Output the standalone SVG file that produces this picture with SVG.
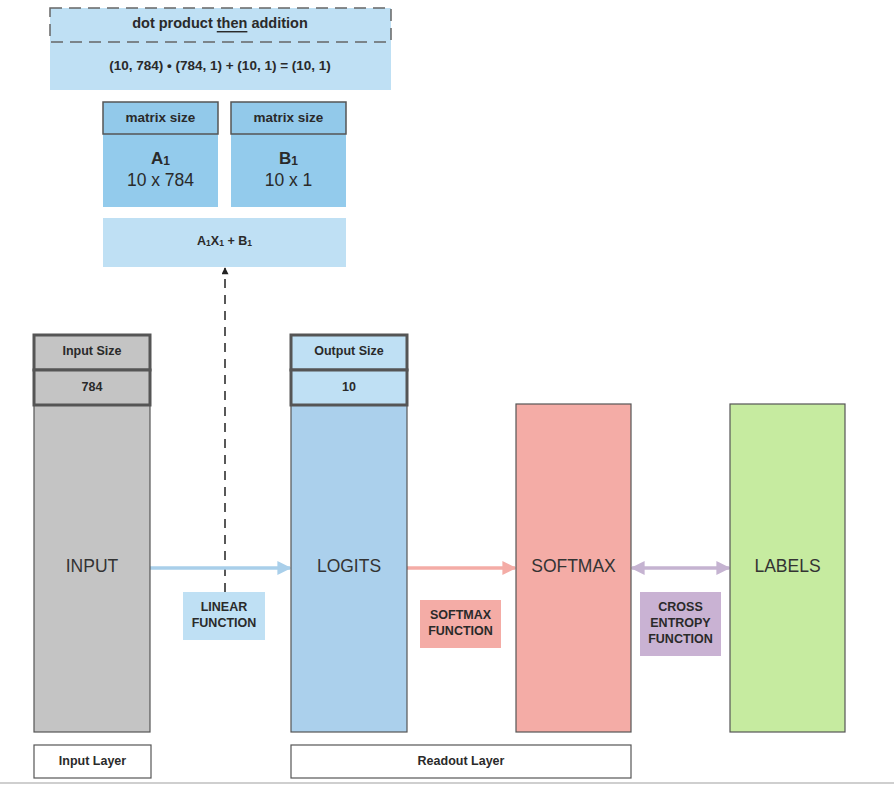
<svg xmlns="http://www.w3.org/2000/svg" width="894" height="785" viewBox="0 0 894 785">
<defs>
<style>
text{font-family:"Liberation Sans",Arial,sans-serif;fill:#2a2a2a;text-anchor:middle;dominant-baseline:central}
.b{font-weight:bold}
.s11{font-size:12.5px}
.s12{font-size:13.5px}
.s13{font-size:14.5px}
.big{font-size:17.5px;fill:#333}
.thick{stroke:#555;stroke-width:3}
.thin{stroke:#555;stroke-width:1.2}
.lb{fill:#bfe0f4}
</style>
<marker id="ab" viewBox="0 0 10 10" refX="9" refY="5" markerWidth="4" markerHeight="4" orient="auto-start-reverse"><path d="M0,0L10,5L0,10z" fill="#a9cfea"/></marker>
<marker id="as" viewBox="0 0 10 10" refX="9" refY="5" markerWidth="4" markerHeight="4" orient="auto-start-reverse"><path d="M0,0L10,5L0,10z" fill="#f4aca6"/></marker>
<marker id="ap" viewBox="0 0 10 10" refX="9" refY="5" markerWidth="4" markerHeight="4" orient="auto-start-reverse"><path d="M0,0L10,5L0,10z" fill="#c5b3d1"/></marker>
<marker id="ak" viewBox="0 0 10 10" refX="9" refY="5" markerWidth="8" markerHeight="7" markerUnits="userSpaceOnUse" orient="auto"><path d="M0,0L10,5L0,10z" fill="#222"/></marker>
</defs>
<rect width="894" height="785" fill="#fff"/>
<line x1="0" y1="783" x2="894" y2="783" stroke="#cfcfcf" stroke-width="2"/>

<g id="formula-box">
<rect x="50" y="8" width="341" height="82" class="lb"/>
<rect x="50" y="8" width="341" height="34" fill="none" stroke="#666" stroke-width="1.5" stroke-dasharray="12,7"/>
<text x="220" y="23" class="b s13">dot product <tspan text-decoration="underline">then</tspan> addition</text>
<text x="220" y="65" class="b" font-size="13.5">(10, 784) • (784, 1) + (10, 1) = (10, 1)</text>
</g>

<g id="matrix-a">
<rect x="103" y="134" width="115" height="73" fill="#93cbec"/>
<rect x="103" y="102" width="115" height="32" fill="#92c9ea" stroke="#555" stroke-width="1.5"/>
<text x="160.5" y="117" class="b s12">matrix size</text>
<text x="160.5" y="158" class="b" font-size="17">A<tspan font-size="12" dy="3">1</tspan></text>
<text x="160.5" y="180" font-size="17.5">10 x 784</text>
</g>

<g id="matrix-b">
<rect x="231" y="134" width="115" height="73" fill="#93cbec"/>
<rect x="231" y="102" width="115" height="32" fill="#92c9ea" stroke="#555" stroke-width="1.5"/>
<text x="288.5" y="117" class="b s12">matrix size</text>
<text x="288.5" y="158" class="b" font-size="17">B<tspan font-size="12" dy="3">1</tspan></text>
<text x="288.5" y="180" font-size="17.5">10 x 1</text>
</g>

<g id="equation">
<rect x="103" y="218" width="243" height="49" class="lb"/>
<text x="224.5" y="241" class="b" font-size="12.5">A<tspan font-size="8.5" dy="2">1</tspan><tspan dy="-2">X</tspan><tspan font-size="8.5" dy="2">1</tspan><tspan dy="-2"> + B</tspan><tspan font-size="8.5" dy="2">1</tspan></text>
</g>

<g id="connectors">
<line x1="225" y1="592" x2="225" y2="268" stroke="#222" stroke-width="1.5" stroke-dasharray="9,7" marker-end="url(#ak)"/>
<line x1="150" y1="568" x2="290" y2="568" stroke="#a9cfea" stroke-width="3.5" marker-end="url(#ab)"/>
<line x1="407" y1="568" x2="515" y2="568" stroke="#f4aca6" stroke-width="3.5" marker-end="url(#as)"/>
<line x1="632" y1="568" x2="729" y2="568" stroke="#c5b3d1" stroke-width="3.5" marker-start="url(#ap)" marker-end="url(#ap)"/>
</g>

<g id="input">
<rect x="34" y="405" width="116" height="327" fill="#c4c4c4" class="thin"/>
<rect x="34" y="335" width="116" height="35" fill="#c4c4c4" class="thick"/>
<rect x="34" y="370" width="116" height="35" fill="#c4c4c4" class="thick"/>
<text x="92" y="351" class="b s11">Input Size</text>
<text x="92" y="387" class="b s11">784</text>
<text x="92" y="566" class="big">INPUT</text>
</g>

<g id="logits">
<rect x="291" y="405" width="116" height="327" fill="#abd0ec" class="thin"/>
<rect x="291" y="335" width="116" height="35" class="lb thick"/>
<rect x="291" y="370" width="116" height="35" class="lb thick"/>
<text x="349" y="351" class="b s11">Output Size</text>
<text x="349" y="387" class="b s11">10</text>
<text x="349" y="566" class="big">LOGITS</text>
</g>

<g id="softmax">
<rect x="516" y="404" width="115" height="328" fill="#f4aca6" class="thin"/>
<text x="573.5" y="566" class="big">SOFTMAX</text>
</g>

<g id="labels">
<rect x="730" y="404" width="115" height="328" fill="#c6eba0" class="thin"/>
<text x="787.5" y="566" class="big">LABELS</text>
</g>

<g id="linear-function">
<rect x="183" y="592" width="82" height="48" class="lb"/>
<text x="224" y="607" class="b s11">LINEAR</text>
<text x="224" y="623" class="b s11">FUNCTION</text>
</g>

<g id="softmax-function">
<rect x="420" y="600" width="81" height="48" fill="#f4aca6"/>
<text x="460.5" y="615" class="b s11">SOFTMAX</text>
<text x="460.5" y="631" class="b s11">FUNCTION</text>
</g>

<g id="cross-entropy-function">
<rect x="640" y="592" width="81" height="64" fill="#c9b2d3"/>
<text x="680.5" y="607" class="b s11">CROSS</text>
<text x="680.5" y="623" class="b s11">ENTROPY</text>
<text x="680.5" y="639" class="b s11">FUNCTION</text>
</g>

<g id="input-layer">
<rect x="34" y="745" width="117" height="33" fill="#fff" class="thin"/>
<text x="92.5" y="761" class="b s11">Input Layer</text>
</g>

<g id="readout-layer">
<rect x="291" y="745" width="340" height="33" fill="#fff" class="thin"/>
<text x="461" y="761" class="b s11">Readout Layer</text>
</g>
</svg>
